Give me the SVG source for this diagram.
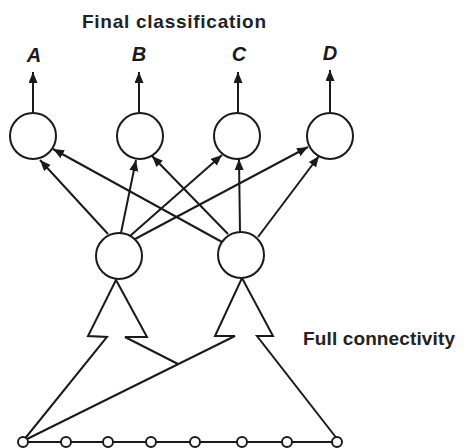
<svg xmlns="http://www.w3.org/2000/svg" width="468" height="448" viewBox="0 0 468 448">
<style>
.n{fill:#fff;stroke:#1a1a1a;stroke-width:2}
.s{fill:#fff;stroke:#1a1a1a;stroke-width:2}
.c{fill:none;stroke:#1a1a1a;stroke-width:2;stroke-linejoin:miter}
.a{marker-end:url(#ah)}
.t{font-family:"Liberation Sans",Arial,sans-serif;font-weight:bold;fill:#222}
.l{font-family:"Liberation Sans",Arial,sans-serif;font-weight:bold;font-style:italic;fill:#1a1a1a;font-size:20px;text-anchor:middle}
</style>
<defs>
<marker id="ah" markerUnits="userSpaceOnUse" markerWidth="12" markerHeight="10" refX="11" refY="4.5" orient="auto">
<path d="M0,0 L11,4.5 L0,9 z" fill="#1a1a1a"/>
</marker>
</defs>
<rect width="468" height="448" fill="#fff"/>
<text class="t" x="82" y="28" font-size="19" textLength="184" lengthAdjust="spacing">Final classification</text>
<text class="t" x="303" y="345" font-size="19" textLength="152" lengthAdjust="spacing">Full connectivity</text>
<text class="l" x="34" y="62">A</text>
<text class="l" x="139" y="61">B</text>
<text class="l" x="239" y="61">C</text>
<text class="l" x="330" y="60">D</text>
<g id="connectors">
<line class="c a" x1="33" y1="113" x2="33" y2="72"/>
<line class="c a" x1="139" y1="113" x2="139" y2="72"/>
<line class="c a" x1="238" y1="113" x2="238" y2="72"/>
<line class="c a" x1="330" y1="113" x2="330" y2="70"/>
<line class="c a" x1="108" y1="234" x2="40" y2="160"/>
<line class="c a" x1="121" y1="233" x2="136" y2="160"/>
<line class="c a" x1="130" y1="236" x2="222" y2="155"/>
<line class="c a" x1="135" y1="239" x2="308" y2="147"/>
<line class="c a" x1="222" y1="242" x2="53" y2="149"/>
<line class="c a" x1="228" y1="234" x2="152" y2="156"/>
<line class="c a" x1="240" y1="232" x2="239" y2="159"/>
<line class="c a" x1="258" y1="237" x2="319" y2="156"/>
<path class="c" d="M23,441 L107,337 L88,336 L116,280 L147,337 L125,337 L178,364"/>
<path class="c" d="M23,441 L235,336 L215,336 L242,278 L273,336 L257,336 L338,440"/>
<line class="c" x1="23" y1="442" x2="337" y2="442"/>
</g>
<g id="out-A"><circle class="n" cx="33" cy="136" r="23"/></g>
<g id="out-B"><circle class="n" cx="140" cy="136" r="23"/></g>
<g id="out-C"><circle class="n" cx="237" cy="136" r="23"/></g>
<g id="out-D"><circle class="n" cx="330" cy="136" r="23"/></g>
<g id="hid-1"><circle class="n" cx="119" cy="256" r="23"/></g>
<g id="hid-2"><circle class="n" cx="241" cy="255" r="23"/></g>
<g id="inputs">
<circle class="s" cx="23" cy="442" r="5"/>
<circle class="s" cx="66" cy="442" r="5"/>
<circle class="s" cx="108" cy="442" r="5"/>
<circle class="s" cx="151" cy="442" r="5"/>
<circle class="s" cx="195" cy="442" r="5"/>
<circle class="s" cx="242" cy="442" r="5"/>
<circle class="s" cx="287" cy="442" r="5"/>
<circle class="s" cx="337" cy="442" r="5"/>
</g>
</svg>
